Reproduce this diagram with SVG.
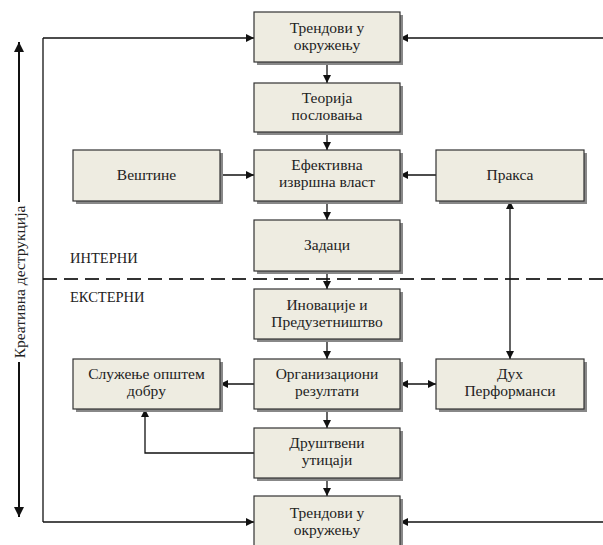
<svg xmlns="http://www.w3.org/2000/svg" width="603" height="545" viewBox="0 0 603 545">
  <style>
    .box rect.bg { fill: #eeece1; stroke: #333; stroke-width: 1.2; }
    .box rect.sh { fill: #888; }
    .box text { font-family: "Liberation Serif", "DejaVu Serif", serif; font-size: 15.5px; fill: #222; text-anchor: middle; }
    .lbl { font-family: "Liberation Serif", "DejaVu Serif", serif; font-size: 14.5px; fill: #222; }
    .conn line, .conn path { stroke: #111; stroke-width: 1.3; fill: none; }
  </style>
  <defs>
    <marker id="ah" viewBox="0 0 10 10" refX="10" refY="5" markerWidth="8" markerHeight="8" markerUnits="userSpaceOnUse" orient="auto-start-reverse">
      <path d="M0,0 L10,5 L0,10 z" fill="#111"/>
    </marker>
    <marker id="ahb" viewBox="0 0 10 10" refX="10" refY="5" markerWidth="10" markerHeight="10" markerUnits="userSpaceOnUse" orient="auto-start-reverse">
      <path d="M0,0 L10,5 L0,10 z" fill="#111"/>
    </marker>
  </defs>

  <!-- internal / external divider -->
  <line x1="43" y1="279" x2="603" y2="279" stroke="#333" stroke-width="2" stroke-dasharray="14,7"/>
  <text class="lbl" x="70" y="263">ИНТЕРНИ</text>
  <text class="lbl" x="70" y="302">ЕКСТЕРНИ</text>

  <!-- creative destruction axis -->
  <g id="axis">
    <line x1="19" y1="202" x2="19" y2="42" stroke="#111" stroke-width="2" marker-end="url(#ahb)"/>
    <line x1="19" y1="362" x2="19" y2="517" stroke="#111" stroke-width="2" marker-end="url(#ahb)"/>
    <text transform="translate(24.5,282) rotate(-90)" text-anchor="middle" font-family="Liberation Serif, DejaVu Serif, serif" font-size="15.5" fill="#222">Креативна деструкција</text>
  </g>

  <!-- connectors -->
  <g class="conn">
    <path d="M43,38 V522" stroke="#555"/>
    <line x1="43" y1="38" x2="254" y2="38" marker-end="url(#ah)"/>
    <line x1="43" y1="522" x2="254" y2="522" marker-end="url(#ah)"/>
    <line x1="603" y1="38" x2="400" y2="38" marker-end="url(#ah)"/>
    <line x1="603" y1="522" x2="400" y2="522" marker-end="url(#ah)"/>
    <line x1="327" y1="62" x2="327" y2="83" marker-end="url(#ah)"/>
    <line x1="327" y1="132" x2="327" y2="150" marker-end="url(#ah)"/>
    <line x1="327" y1="201" x2="327" y2="220" marker-end="url(#ah)"/>
    <line x1="327" y1="271" x2="327" y2="289" marker-end="url(#ah)"/>
    <line x1="327" y1="339" x2="327" y2="359" marker-end="url(#ah)"/>
    <line x1="327" y1="409" x2="327" y2="428" marker-end="url(#ah)"/>
    <line x1="327" y1="478" x2="327" y2="496" marker-end="url(#ah)"/>
    <line x1="220" y1="175" x2="254" y2="175" marker-end="url(#ah)"/>
    <line x1="436" y1="175" x2="400" y2="175" marker-end="url(#ah)"/>
    <line x1="510" y1="201" x2="510" y2="359" marker-start="url(#ah)" marker-end="url(#ah)"/>
    <line x1="400" y1="384" x2="436" y2="384" marker-start="url(#ah)" marker-end="url(#ah)"/>
    <line x1="254" y1="384" x2="220" y2="384" marker-end="url(#ah)"/>
    <path d="M254,453 H145 V409" marker-end="url(#ah)"/>
  </g>

  <!-- nodes -->
  <g id="trends-top" class="box">
    <rect class="sh" x="257" y="15" width="146" height="50"/>
    <rect class="bg" x="254" y="12" width="146" height="50"/>
    <text x="327" y="33">Трендови у</text>
    <text x="327" y="50">окружењу</text>
  </g>
  <g id="theory" class="box">
    <rect class="sh" x="257" y="86" width="146" height="49"/>
    <rect class="bg" x="254" y="83" width="146" height="49"/>
    <text x="327" y="103">Теорија</text>
    <text x="327" y="120">пословања</text>
  </g>
  <g id="executive" class="box">
    <rect class="sh" x="257" y="153" width="146" height="51"/>
    <rect class="bg" x="254" y="150" width="146" height="51"/>
    <text x="327" y="170">Ефективна</text>
    <text x="327" y="187">извршна власт</text>
  </g>
  <g id="skills" class="box">
    <rect class="sh" x="76" y="153" width="147" height="51"/>
    <rect class="bg" x="73" y="150" width="147" height="51"/>
    <text x="146.5" y="180">Вештине</text>
  </g>
  <g id="practice" class="box">
    <rect class="sh" x="439" y="153" width="148" height="51"/>
    <rect class="bg" x="436" y="150" width="148" height="51"/>
    <text x="510" y="180">Пракса</text>
  </g>
  <g id="tasks" class="box">
    <rect class="sh" x="257" y="223" width="146" height="51"/>
    <rect class="bg" x="254" y="220" width="146" height="51"/>
    <text x="327" y="250">Задаци</text>
  </g>
  <g id="innovation" class="box">
    <rect class="sh" x="257" y="292" width="146" height="50"/>
    <rect class="bg" x="254" y="289" width="146" height="50"/>
    <text x="327" y="310">Иновације и</text>
    <text x="327" y="327">Предузетништво</text>
  </g>
  <g id="org-results" class="box">
    <rect class="sh" x="257" y="362" width="146" height="50"/>
    <rect class="bg" x="254" y="359" width="146" height="50"/>
    <text x="327" y="379">Организациони</text>
    <text x="327" y="396">резултати</text>
  </g>
  <g id="common-good" class="box">
    <rect class="sh" x="76" y="362" width="147" height="50"/>
    <rect class="bg" x="73" y="359" width="147" height="50"/>
    <text x="146.5" y="379">Служење општем</text>
    <text x="146.5" y="396">добру</text>
  </g>
  <g id="performance" class="box">
    <rect class="sh" x="439" y="362" width="148" height="50"/>
    <rect class="bg" x="436" y="359" width="148" height="50"/>
    <text x="510" y="379">Дух</text>
    <text x="510" y="396">Перформанси</text>
  </g>
  <g id="social-impact" class="box">
    <rect class="sh" x="257" y="431" width="146" height="50"/>
    <rect class="bg" x="254" y="428" width="146" height="50"/>
    <text x="327" y="448">Друштвени</text>
    <text x="327" y="465">утицаји</text>
  </g>
  <g id="trends-bottom" class="box">
    <rect class="sh" x="257" y="499" width="146" height="52"/>
    <rect class="bg" x="254" y="496" width="146" height="52"/>
    <text x="327" y="518">Трендови у</text>
    <text x="327" y="535">окружењу</text>
  </g>
</svg>
